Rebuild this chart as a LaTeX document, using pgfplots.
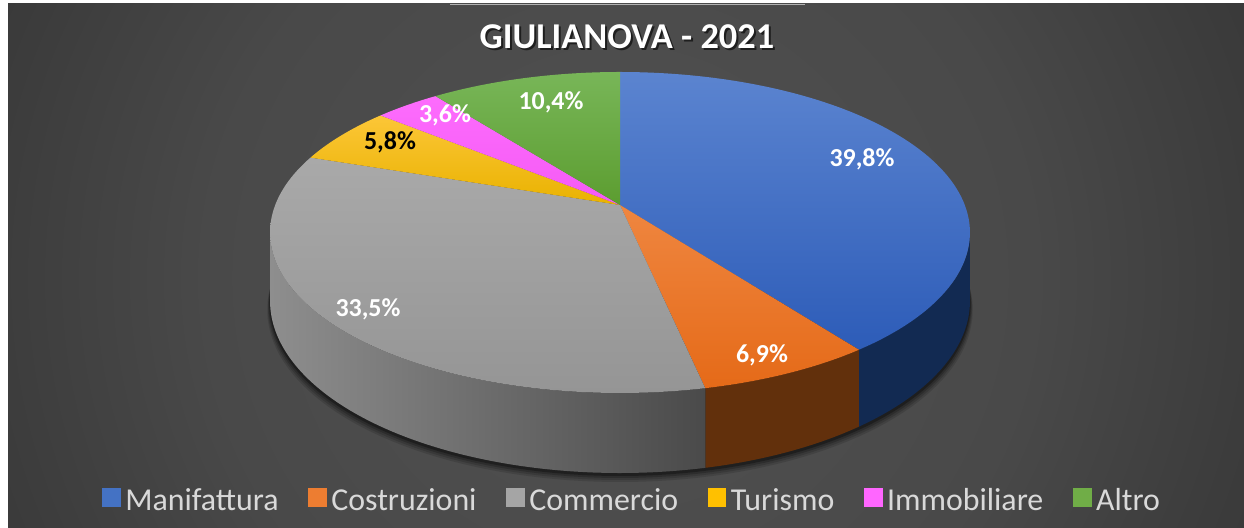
\documentclass[border=0pt]{standalone}
\usepackage{pgfplots}
\pgfplotsset{compat=1.18}
\usepackage{fontspec}
\setmainfont{Carlito}
\definecolor{bgA}{HTML}{515151}
\definecolor{bgB}{HTML}{494949}
\definecolor{bgC}{HTML}{3C3C3C}
\definecolor{bgD}{HTML}{2E2E2E}
\definecolor{bgE}{HTML}{262626}
\pgfdeclareradialshading{bgsh}{\pgfpointorigin}{color(0bp)=(bgA); color(15bp)=(bgB); color(23bp)=(bgC); color(33bp)=(bgD); color(43bp)=(bgE); color(50bp)=(bgE)}
\definecolor{manT}{HTML}{5B84D0}
\definecolor{manB}{HTML}{2D5CB8}
\definecolor{manS}{HTML}{122A52}
\definecolor{cosT}{HTML}{EF8640}
\definecolor{cosB}{HTML}{E56A18}
\definecolor{cosS}{HTML}{62300C}
\definecolor{comT}{HTML}{A9A9A9}
\definecolor{comB}{HTML}{959595}
\definecolor{comSL}{HTML}{8E8E8E}
\definecolor{comSR}{HTML}{4A4A4A}
\definecolor{turT}{HTML}{FCC637}
\definecolor{turB}{HTML}{E9B200}
\definecolor{immT}{HTML}{FD6CFD}
\definecolor{immB}{HTML}{F55AF5}
\definecolor{altT}{HTML}{78B658}
\definecolor{altB}{HTML}{5C9D30}
\definecolor{legtxt}{HTML}{D9D9D9}
\definecolor{manL}{HTML}{4472C4}
\definecolor{cosL}{HTML}{ED7D31}
\definecolor{comL}{HTML}{A5A5A5}
\definecolor{turL}{HTML}{FFC000}
\definecolor{immL}{HTML}{FF66FF}
\definecolor{altL}{HTML}{70AD47}
% data (percent)
\def\vMan{39.8}
\def\vCos{6.9}
\def\vCom{33.5}
\def\vTur{5.8}
\def\vImm{3.6}
\def\vAlt{10.4}
\pgfmathsetmacro\aA{0}
\pgfmathsetmacro\aB{\aA+3.6*\vMan}
\pgfmathsetmacro\aC{\aB+3.6*\vCos}
\pgfmathsetmacro\aD{\aC+3.6*\vCom}
\pgfmathsetmacro\aE{\aD+3.6*\vTur}
\pgfmathsetmacro\aF{\aE+3.6*\vImm}
\pgfmathsetmacro\aG{\aF+3.6*\vAlt}
\newcommand\topslice[4]{%
\addplot[forget plot, draw=none, top color=#3, bottom color=#4, domain=#1:#2, samples=90, variable=\t]
  ({px(\t)},{py(\t)}) -- (axis cs:620,205) -- cycle;}
\newcommand\sidewall[3]{%
\addplot[forget plot, draw=none, #3, variable=\s, samples at={0,1,...,100,100.001,101,102,...,200}]
  ({px(#1+(#2-#1)*min(\s,200-\s)/100)},
   {py(#1+(#2-#1)*min(\s,200-\s)/100)+(\s>100)*66.3/(1+0.1713*cos(#1+(#2-#1)*min(\s,200-\s)/100))});}
\newcommand\shadowlayer[3]{%
\addplot[forget plot, fill=black, opacity=#3, draw=none, domain=93:267, samples=90, variable=\t]
  ({620+#1*(px(\t)-620)},{pb(\t)+#2}) -- cycle;}
\begin{document}
\begin{tikzpicture}
\fill[bgE] (8bp,-20bp) rectangle (1270bp,524bp);
\begin{scope}
\clip (8bp,-20bp) rectangle (1270bp,524bp);
\shade[shading=bgsh] (620bp,250bp) circle (690bp);
\end{scope}
\fill[white!70!black] (450bp,523bp) rectangle (805bp,524bp);
\begin{axis}[
  at={(0bp,0bp)}, anchor=south west,
  scale only axis, width=1244bp, height=528bp,
  xmin=0, xmax=1244, ymin=0, ymax=528, y dir=reverse,
  hide axis, clip=false,
  declare function={
    px(\t)=620+344.8*sin(\t)/(1+0.1713*cos(\t));
    py(\t)=205-155.8*cos(\t)/(1+0.1713*cos(\t));
    pb(\t)=py(\t)+66.3/(1+0.1713*cos(\t));
  },
  legend columns=6,
  legend style={at={(0.508,0.053)}, anchor=center, draw=none, fill=none,
    text=legtxt, font=\fontsize{32}{38}\selectfont,
    /tikz/every odd column/.append style={column sep=3pt},
    /tikz/every even column/.append style={column sep=27.5pt}},
  legend image code/.code={\fill[#1] (0pt,-6pt) rectangle (18pt,12pt);},
]
% shadow under the pie
\shadowlayer{1.008}{9}{0.12}
\shadowlayer{1.006}{7}{0.15}
\shadowlayer{1.004}{5}{0.2}
\shadowlayer{1.002}{3}{0.3}
% side walls
\sidewall{99.9}{\aB}{fill=manS}
\sidewall{\aB}{\aC}{fill=cosS}
\sidewall{\aC}{260.1}{left color=comSL, right color=comSR}
% top faces
\topslice{\aA}{\aB}{manT}{manB}
\topslice{\aB}{\aC}{cosT}{cosB}
\topslice{\aC}{\aD}{comT}{comB}
\topslice{\aD}{\aE}{turT}{turB}
\topslice{\aE}{\aF}{immT}{immB}
\topslice{\aF}{\aG}{altT}{altB}
% labels
\begin{scope}[font=\bfseries\fontsize{26}{30}\selectfont]
\node[white] at (axis cs:862,159) {39,8\%};
\node[white] at (axis cs:762,355) {6,9\%};
\node[white] at (axis cs:368,309) {33,5\%};
\node[black] at (axis cs:390,142) {5,8\%};
\node[white] at (axis cs:445,115) {3,6\%};
\node[white] at (axis cs:551,102) {10,4\%};
\end{scope}
% title
\node[anchor=base, black, opacity=0.6, font=\bfseries\fontsize{36.5}{42}\selectfont] at (axis cs:629,51) {GIULIANOVA - 2021};
\node[anchor=base, white, font=\bfseries\fontsize{36.5}{42}\selectfont] at (axis cs:627,49) {GIULIANOVA - 2021};
% legend
\addlegendimage{manL}\addlegendentry{Manifattura}
\addlegendimage{cosL}\addlegendentry{Costruzioni}
\addlegendimage{comL}\addlegendentry{Commercio}
\addlegendimage{turL}\addlegendentry{Turismo}
\addlegendimage{immL}\addlegendentry{Immobiliare}
\addlegendimage{altL}\addlegendentry{Altro}
\end{axis}
\pgfresetboundingbox
\useasboundingbox (0bp,0bp) rectangle (1244bp,528bp);
\end{tikzpicture}
\end{document}
